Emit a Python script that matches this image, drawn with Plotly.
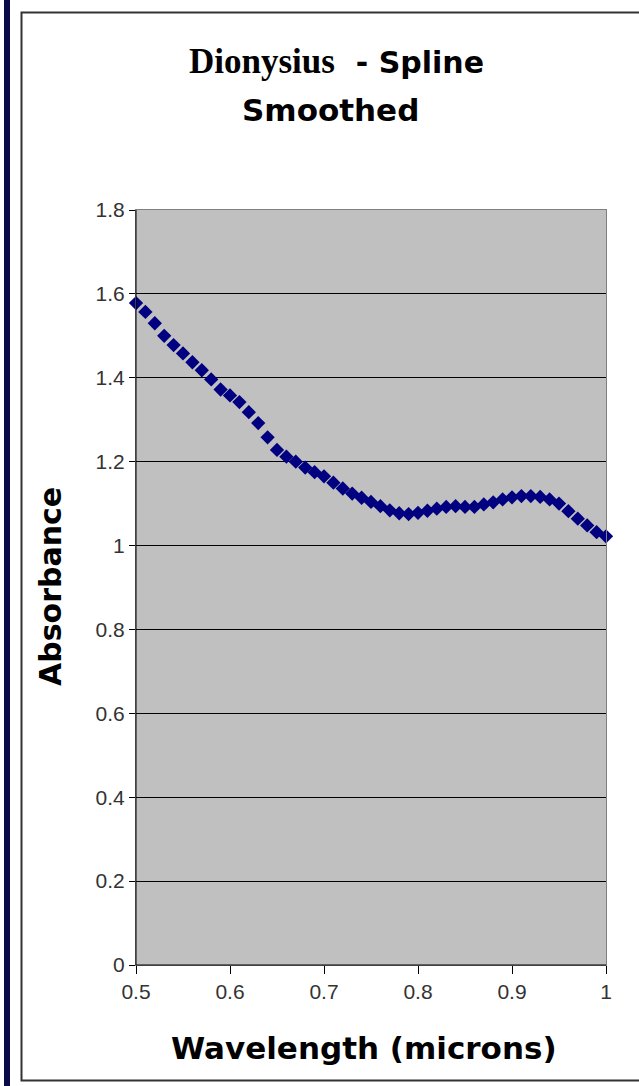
import plotly.graph_objects as go

wavelength = [round(0.50 + 0.01 * i, 2) for i in range(51)]
absorbance = [
    1.578, 1.557, 1.530, 1.500, 1.478, 1.458, 1.437, 1.418, 1.396, 1.372,
    1.358, 1.342, 1.318, 1.292, 1.258, 1.228, 1.212, 1.200, 1.186, 1.175,
    1.165, 1.150, 1.136, 1.124, 1.114, 1.104, 1.094, 1.084, 1.077, 1.075,
    1.078, 1.083, 1.088, 1.092, 1.094, 1.092, 1.092, 1.098, 1.103, 1.110,
    1.115, 1.118, 1.118, 1.116, 1.110, 1.100, 1.082, 1.064, 1.048, 1.032,
    1.022,
]
x_ticks = [0.5, 0.6, 0.7, 0.8, 0.9, 1.0]
x_tick_labels = ["0.5", "0.6", "0.7", "0.8", "0.9", "1"]
y_ticks = [0, 0.2, 0.4, 0.6, 0.8, 1.0, 1.2, 1.4, 1.6, 1.8]
y_tick_labels = ["0", "0.2", "0.4", "0.6", "0.8", "1", "1.2", "1.4", "1.6", "1.8"]

W, H = 639, 1086
L, R, T, B = 136, 606, 210, 965


def px(x):
    return (x - L) / (R - L)


def py(y):
    return (B - y) / (B - T)


fig = go.Figure()
fig.add_trace(go.Scatter(
    x=wavelength, y=absorbance, mode="markers",
    marker=dict(symbol="diamond", size=11, color="#000080",
                line=dict(width=0)),
    cliponaxis=False, showlegend=False,
))

tickfont = dict(size=21, family="Liberation Sans, Arial", color="#333")

fig.update_layout(
    width=W, height=H,
    margin=dict(l=L, r=W - R, t=T, b=H - B),
    paper_bgcolor="white", plot_bgcolor="#C0C0C0",
    font=dict(family="Liberation Sans, Arial", color="black"),
    xaxis=dict(range=[0.5, 1.0], tickvals=x_ticks, ticktext=x_tick_labels,
               showgrid=False, zeroline=False, showline=True,
               linecolor="#808080", linewidth=1, mirror=True,
               ticks="outside", ticklen=8, tickcolor="black",
               tickfont=tickfont),
    yaxis=dict(range=[0, 1.8], tickvals=y_ticks, ticktext=y_tick_labels,
               showgrid=True, gridcolor="black", gridwidth=1,
               zeroline=False, showline=True,
               linecolor="#808080", linewidth=1, mirror=True,
               ticks="outside", ticklen=6, tickcolor="black",
               tickfont=tickfont),
    shapes=[
        dict(type="rect", xref="paper", yref="paper",
             x0=px(4), x1=px(10), y0=py(H + 5), y1=py(-5),
             fillcolor="#0A0A4A", line=dict(width=0), layer="above"),
        dict(type="rect", xref="paper", yref="paper",
             x0=px(21.5), x1=px(W + 10), y0=py(1080.5), y1=py(12.5),
             fillcolor="rgba(0,0,0,0)",
             line=dict(color="#333", width=2), layer="above"),
        dict(type="line", xref="paper", yref="paper",
             x0=0, x1=1, y0=0, y1=0, line=dict(color="black", width=1)),
        dict(type="line", xref="paper", yref="paper",
             x0=0, x1=0, y0=0, y1=1, line=dict(color="black", width=1)),
    ],
    annotations=[
        dict(xref="paper", yref="paper", x=px(336), y=py(62),
             xanchor="center", yanchor="middle", showarrow=False,
             text=("<b><span style='font-family:Liberation Serif, Times New Roman;font-size:35px'>Dionysius</span>"
                   "  - Spline</b>"),
             font=dict(size=30, family="DejaVu Sans", color="black")),
        dict(xref="paper", yref="paper", x=px(330), y=py(110),
             xanchor="center", yanchor="middle", showarrow=False,
             text="<b>Smoothed</b>",
             font=dict(size=31, family="DejaVu Sans", color="black")),
        dict(xref="paper", yref="paper", x=px(364), y=py(1048),
             xanchor="center", yanchor="middle", showarrow=False,
             text="<b>Wavelength (microns)</b>",
             font=dict(size=31, family="DejaVu Sans", color="black")),
        dict(xref="paper", yref="paper", x=px(50), y=py(587),
             xanchor="center", yanchor="middle", showarrow=False,
             textangle=-90, text="<b>Absorbance</b>",
             font=dict(size=30, family="DejaVu Sans", color="black")),
    ],
)

fig.write_html("out.html", config={"displayModeBar": False},
               post_script="document.body.style.margin='0';")
